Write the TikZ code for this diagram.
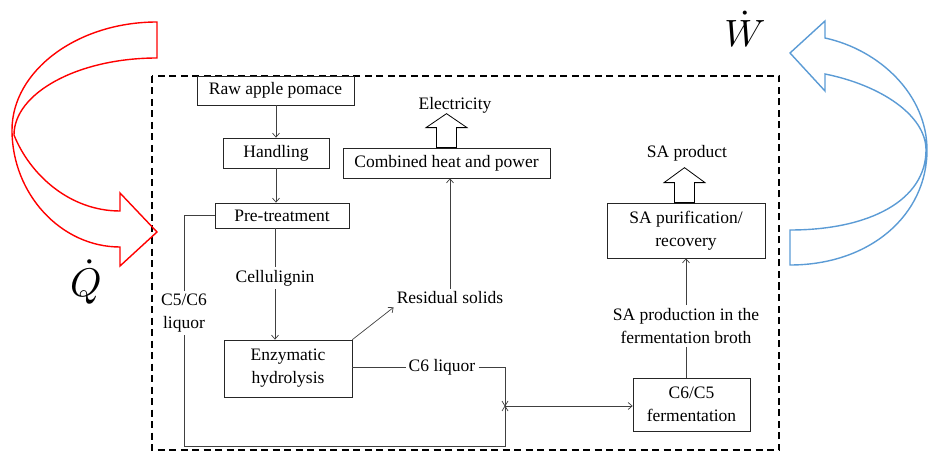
\documentclass[tikz,border=0pt]{standalone}
\usepackage{fontspec}
\setmainfont{Liberation Serif}
\usetikzlibrary{arrows.meta}
\newcommand{\diagfont}{\fontsize{17.5}{23}\selectfont}
\definecolor{heatred}{RGB}{255,0,0}
\definecolor{workblue}{RGB}{91,155,213}

\begin{document}
\begin{tikzpicture}[x=1pt, y=-1pt,
    box/.style n args={2}{draw=black!85, line width=0.7pt, minimum width=#1, minimum height=#2, inner sep=0pt, align=center, font=\diagfont},
    lbl/.style={inner sep=3pt, align=center, font=\diagfont},
    flow/.style={draw=black!75, line width=0.7pt},
    flowarr/.style={flow, -{Straight Barb[length=4pt,width=7pt]}},
    hollow/.style={draw=black, line width=0.8pt, fill=white},
    frame/.style={draw=black, line width=1.8pt, dash pattern=on 7pt off 4.5pt},
    bigarrow/.style={line width=1.4pt, line join=miter}]
    \useasboundingbox (0,0) rectangle (928,454);
    % limite del sistema
    \draw[frame] (152,76) rectangle (779,450);

    % cajas del proceso
    \node[box={157}{29}] (raw) at (275.5,90.5) {Raw apple pomace};
    \node[box={106}{30}] (hand) at (276,153) {Handling};
    \node[box={134}{25}] (pre) at (282,215.5) {Pre-treatment};
    \node[box={207}{30}] (chp) at (446.5,163) {Combined heat and power};
    \node[box={128}{57}] (enz) at (288,368.5) {Enzymatic\\hydrolysis};
    \node[box={158}{55}] (pur) at (686,230.5) {SA purification/\\recovery};
    \node[box={117}{53}] (fer) at (691.5,404.5) {C6/C5\\fermentation};

    % corrientes
    \node[lbl] (elec) at (455,105) {Electricity};
    \node[lbl] (sap) at (687,153) {SA product};
    \node[lbl] (cel) at (275,278) {Cellulignin};
    \node[lbl] (liq) at (184,313) {C5/C6\\liquor};
    \node[lbl] (res) at (450,298) {Residual solids};
    \node[lbl] (c6) at (442,367) {C6 liquor};
    \node[lbl] (broth) at (686,326) {SA production in the\\fermentation broth};
    \coordinate (jn) at (505,406);
    \coordinate (bot) at (505,446);

    \draw[flowarr] (raw.south -| hand) -- (hand.north);
    \draw[flowarr] (hand.south) -- (hand.south |- pre.north);
    \draw[flow] (cel |- pre.south) -- (cel.north);
    \draw[flowarr] (cel.south) -- (cel |- enz.north);
    \draw[flowarr] (enz.north east) -- (res.south west);
    \draw[flowarr] (res.north) -- (res.north |- chp.south);
    \draw[flow] (pre.west) -| (liq.north);
    \draw[flow] (enz.east |- c6) -- (c6.west);
    \draw[flow] (c6.east) -| (bot) -| (liq.south);
    \draw[flowarr] (jn) -- (jn -| fer.west);
    \draw[flow] (jn) +(-3,-5) -- +(3,5) +(-3,5) -- +(3,-5);
    \draw[flow] (fer.north -| broth) -- (broth.south);
    \draw[flowarr] (broth.north) -- (broth.north |- pur.south);

    % flechas huecas de salida
    \draw[hollow] (chp.north) ++(-10,0) -- ++(0,-20) -- ++(-10.5,0) -- ++(20.5,-14)
        -- ++(20.5,14) -- ++(-10.5,0) -- ++(0,20) -- cycle;
    \draw[hollow] (pur.north) ++(-11.5,0) -- ++(0,-20) -- ++(-10.5,0) -- ++(20.5,-15)
        -- ++(20.5,15) -- ++(-10.5,0) -- ++(0,20) -- cycle;

    % calor que entra y trabajo que sale
    \draw[bigarrow, heatred] (157,58) -- (157,22)
        .. controls (77,22) and (12,71) .. (12,130)
        .. controls (12,194) and (61,247) .. (120,247)
        -- (120,266) -- (157,232) -- (120,193) -- (120,211)
        .. controls (70,211) and (30,175) .. (14,135)
        .. controls (14,93) and (78,58) .. (157,58) -- cycle;
    \draw[bigarrow, workblue] (790,265) -- (790,230)
        .. controls (870,230) and (926,200) .. (926,150)
        .. controls (926,115) and (880,85) .. (825,74)
        -- (825,91) -- (790,53) -- (825,21) -- (825,38)
        .. controls (880,50) and (927,95) .. (927,150)
        .. controls (927,215) and (870,265) .. (790,265) -- cycle;
    \node[inner sep=0pt, scale=4] (qdot) at (86,282) {$\dot{Q}$};
    \node[inner sep=0pt, scale=3.8] (wdot) at (745,29) {$\dot{W}$};
\end{tikzpicture}
\end{document}
